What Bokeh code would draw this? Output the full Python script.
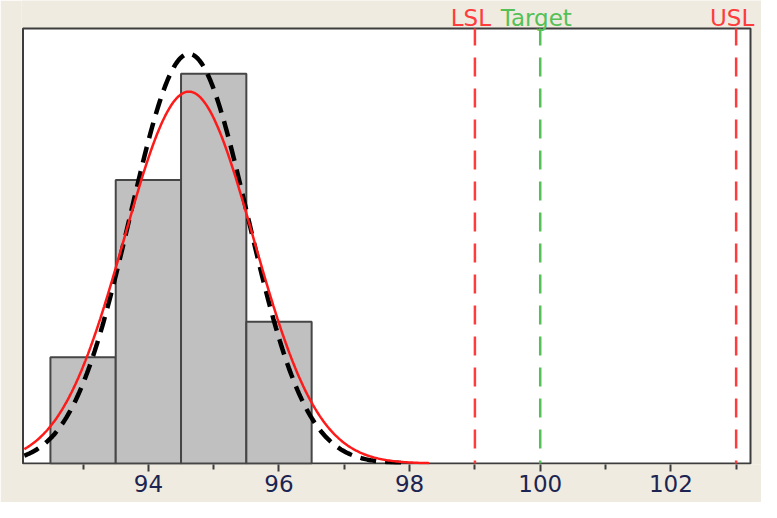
import numpy as np
from bokeh.plotting import figure
from bokeh.models import FixedTicker, Range1d
from bokeh.core.properties import value
from bokeh.embed import file_html
from bokeh.resources import INLINE

# ---- data ----
bin_left = [92.5, 93.5, 94.5, 95.5]
bin_right = [93.5, 94.5, 95.5, 96.5]
counts = [3, 8, 11, 4]
n_total = 26
bin_width = 1.0

mean = 94.62
sigma_overall = 0.988
sigma_within = 0.897
overall_x_end = 98.3
within_x_end = 97.95

spec_names = ["LSL", "Target", "USL"]
spec_values = [99.0, 100.0, 103.0]
spec_colors = ["#ff3b3b", "#55c055", "#ff3b3b"]

major_ticks = [94, 96, 98, 100, 102]
minor_ticks = [93, 95, 97, 99, 101, 103]

x_start, x_end = 92.08, 103.22
y_start, y_end = 0.0, 12.28

# ---- layout constants (pixels) ----
W, H = 761, 502
border_left, band_right, border_bottom = 21, 11, 38
band_top = 28          # beige band above the plot box
frame_w = W - border_left
frame_h = H - border_bottom
box_w = frame_w - band_right - 1.5
box_h = frame_h - band_top - 1
ky = box_h / (y_end - y_start)
kx = box_w / (x_end - x_start)

p = figure(width=W, height=H, output_backend="svg", toolbar_location=None,
           x_range=Range1d(x_start - 1.5 / kx, x_end + band_right / kx),
           y_range=Range1d(y_start - 1.0 / ky, y_end + band_top / ky),
           min_border_left=border_left, min_border_right=0,
           min_border_top=0, min_border_bottom=border_bottom)
p.background_fill_color = "#efebe0"
p.border_fill_color = "#efebe0"
p.outline_line_color = None
p.grid.visible = False
p.yaxis.visible = False

p.xaxis.ticker = FixedTicker(ticks=major_ticks, minor_ticks=minor_ticks)
p.xaxis.axis_line_color = None
p.xaxis.major_tick_in = 0
p.xaxis.major_tick_out = 7
p.xaxis.major_tick_line_width = 2
p.xaxis.major_tick_line_color = "#3c3c3c"
p.xaxis.minor_tick_in = 0
p.xaxis.minor_tick_out = 5
p.xaxis.minor_tick_line_width = 2
p.xaxis.minor_tick_line_color = "#3c3c3c"
p.xaxis.major_label_text_font = "DejaVu Sans"
p.xaxis.major_label_text_font_size = "23px"
p.xaxis.major_label_text_color = "#1c2451"
p.xaxis.major_label_standoff = 3

# white plot box
p.quad(left=[x_start], right=[x_end], bottom=[y_start], top=[y_end],
       fill_color="white", line_color="#3c3c3c", line_width=2)

# histogram
p.quad(left=bin_left, right=bin_right, bottom=0, top=counts,
       fill_color="#c0c0c0", line_color="#464646", line_width=2)

# fitted curves
def normal_curve(mu, sd, x0, x1):
    xs = np.linspace(x0, x1, 300)
    ys = n_total * bin_width / (sd * np.sqrt(2 * np.pi)) * np.exp(-0.5 * ((xs - mu) / sd) ** 2)
    return xs, ys

xw, yw = normal_curve(mean, sigma_within, x_start + 0.02, within_x_end)
p.line(xw, yw, line_color="black", line_width=4.5, line_dash="16 9")
xo, yo = normal_curve(mean, sigma_overall, x_start + 0.02, overall_x_end)
p.line(xo, yo, line_color="#ff1a1a", line_width=2.5)

# spec lines
p.segment(x0=spec_values, y0=[y_start] * 3, x1=spec_values, y1=[y_end] * 3,
          line_color=spec_colors, line_width=2.5, line_dash="19 12", line_dash_offset=16)

# spec labels above the box
p.text(x=spec_values, y=[y_end + 11.0 / ky] * 3, text=spec_names, text_color=spec_colors,
       text_align="center", text_baseline="alphabetic", x_offset=-4,
       text_font=value("DejaVu Sans"), text_font_size="23px")

open("out.html", "w").write(file_html(p, INLINE))
